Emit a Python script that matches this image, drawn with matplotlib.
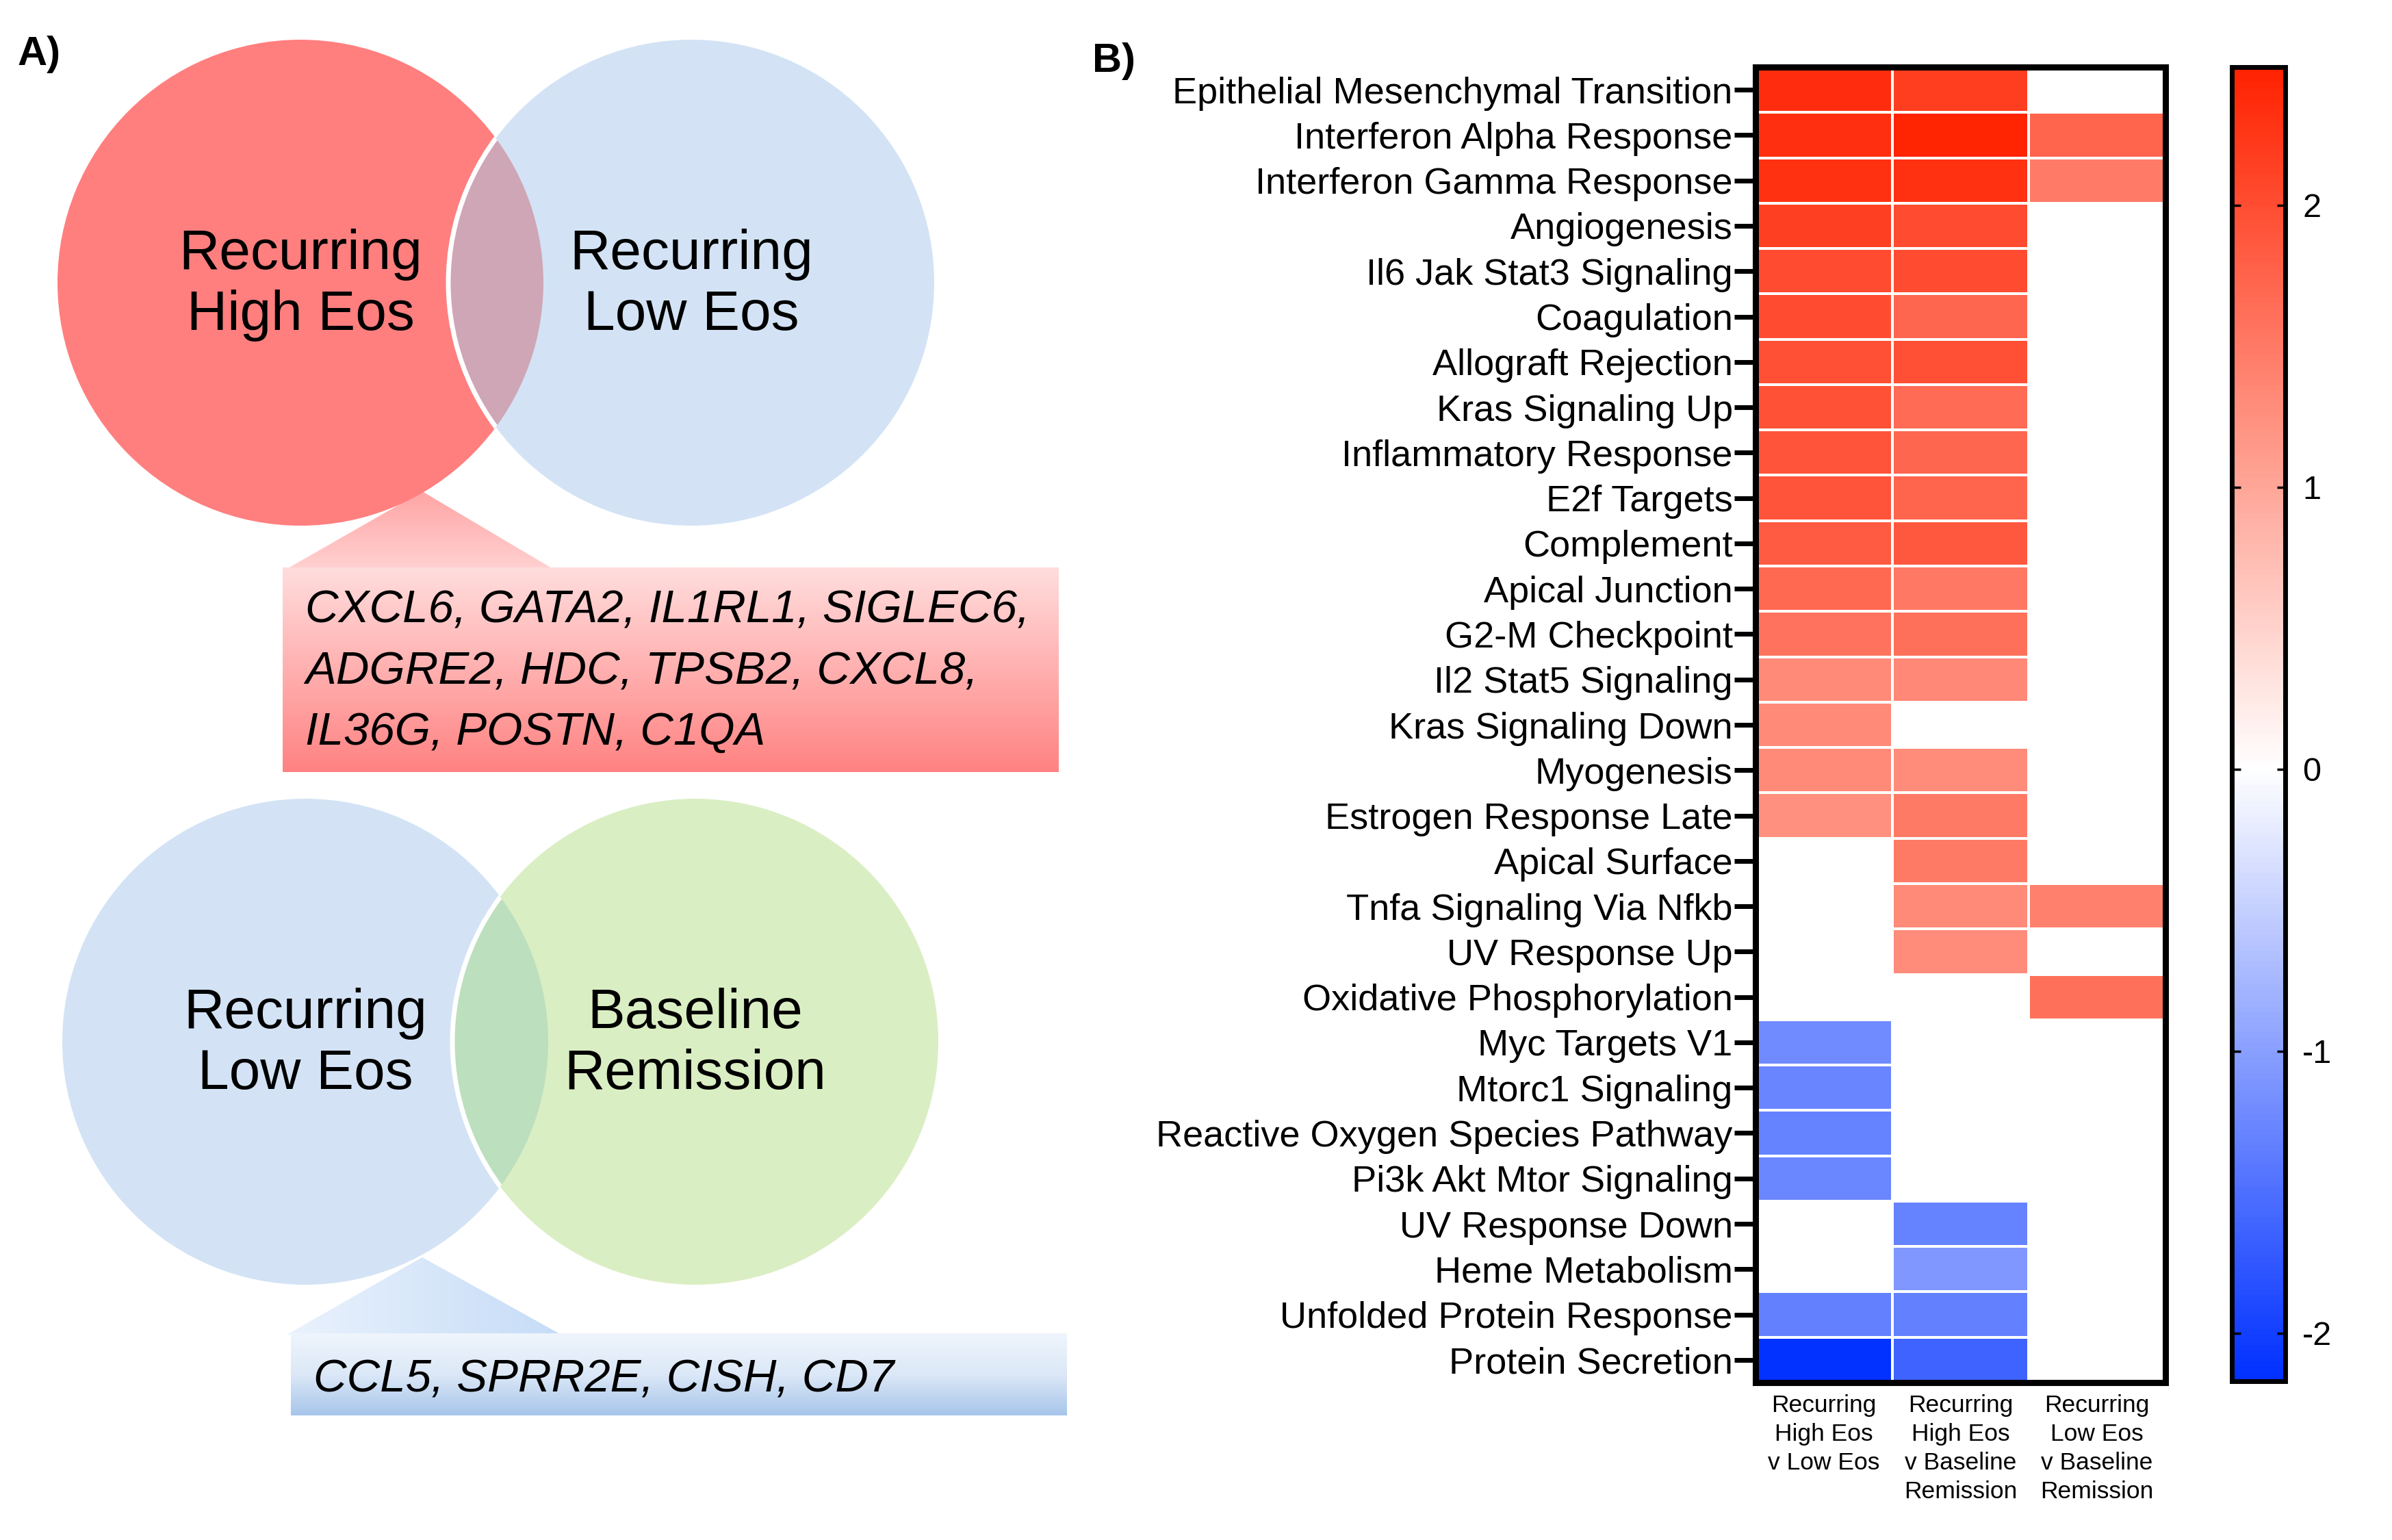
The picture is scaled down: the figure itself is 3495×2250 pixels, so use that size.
import numpy as np
import matplotlib
matplotlib.use('Agg')
import matplotlib.pyplot as plt
from matplotlib.patches import Circle, Polygon, Rectangle
from matplotlib.colors import LinearSegmentedColormap

plt.rcParams['font.family'] = ['Liberation Sans', 'DejaVu Sans']
plt.rcParams['axes.unicode_minus'] = False

nan = np.nan

pathways = ["Epithelial Mesenchymal Transition", "Interferon Alpha Response",
            "Interferon Gamma Response", "Angiogenesis", "Il6 Jak Stat3 Signaling",
            "Coagulation", "Allograft Rejection", "Kras Signaling Up",
            "Inflammatory Response", "E2f Targets", "Complement", "Apical Junction",
            "G2-M Checkpoint", "Il2 Stat5 Signaling", "Kras Signaling Down",
            "Myogenesis", "Estrogen Response Late", "Apical Surface",
            "Tnfa Signaling Via Nfkb", "UV Response Up", "Oxidative Phosphorylation",
            "Myc Targets V1", "Mtorc1 Signaling", "Reactive Oxygen Species Pathway",
            "Pi3k Akt Mtor Signaling", "UV Response Down", "Heme Metabolism",
            "Unfolded Protein Response", "Protein Secretion"]

high_vs_low = [2.35, 2.33, 2.31, 2.16, 2.03, 2.00, 1.97, 1.95, 1.91, 1.91, 1.85, 1.68,
               1.57, 1.32, 1.32, 1.32, 1.25, nan, nan, nan, nan, -1.22, -1.27, -1.30,
               -1.25, nan, nan, -1.33, -2.14]
high_vs_base = [2.17, 2.47, 2.31, 2.00, 2.00, 1.72, 1.97, 1.67, 1.72, 1.74, 1.88, 1.52,
                1.61, 1.34, nan, 1.29, 1.49, 1.49, 1.32, 1.29, nan, nan, nan, nan,
                nan, -1.31, -1.09, -1.33, -1.63]
low_vs_base = [nan, 1.74, 1.48, nan, nan, nan, nan, nan, nan, nan, nan, nan, nan, nan,
               nan, nan, nan, nan, 1.43, nan, 1.61, nan, nan, nan, nan, nan, nan, nan, nan]

comparisons = ["Recurring\nHigh Eos\nv Low Eos",
               "Recurring\nHigh Eos\nv Baseline\nRemission",
               "Recurring\nLow Eos\nv Baseline\nRemission"]
cbar_ticks = [-2, -1, 0, 1, 2]
vmin, vmax = -2.17, 2.49

# Panel A text
venn_top = [["Recurring", "High Eos"], ["Recurring", "Low Eos"]]
venn_bottom = [["Recurring", "Low Eos"], ["Baseline", "Remission"]]
genes_high = ["CXCL6, GATA2, IL1RL1, SIGLEC6,", "ADGRE2, HDC, TPSB2, CXCL8,",
              "IL36G, POSTN, C1QA"]
genes_low = ["CCL5, SPRR2E, CISH, CD7"]

W, H = 3495, 2250
fig = plt.figure(figsize=(W / 100, H / 100), dpi=100)

# ---------------- panel A, drawn in pixel coordinates ----------------
ax0 = fig.add_axes([0, 0, 1, 1])
ax0.axis('off')


def venn(ax, c1, c2, col1, col2, col12, labels, r=355):
    a = Circle(c1, r, fc=col1, ec='none')
    ax.add_patch(a)
    b = Circle(c2, r, fc=col2, ec='none')
    ax.add_patch(b)
    lens = Circle(c1, r, fc=col12, ec='none')
    ax.add_patch(lens)
    lens.set_clip_path(b)
    rim = Circle(c2, r, fill=False, ec='white', lw=5)
    ax.add_patch(rim)
    rim.set_clip_path(a)
    for (cx, cy), lines in zip([c1, c2], labels):
        for k, line in enumerate(lines):
            ax.text(cx, cy - 20 + 89 * k, line, fontsize=59, ha='center', va='baseline')


def grad_patch(ax, patch, colors, horizontal=False):
    ax.add_patch(patch)
    if isinstance(patch, Polygon):
        x0, y0 = patch.get_xy().min(axis=0)
        x1, y1 = patch.get_xy().max(axis=0)
    else:
        x0, y0 = patch.get_xy()
        x1, y1 = x0 + patch.get_width(), y0 + patch.get_height()
    cm = LinearSegmentedColormap.from_list('g', colors)
    g = np.linspace(0, 1, 256)
    arr = g[None, :] if horizontal else g[:, None]
    im = ax.imshow(arr, cmap=cm, extent=(x0, x1, y1, y0), aspect='auto',
                   origin='upper', interpolation='bilinear')
    im.set_clip_path(patch)


venn(ax0, (439, 413), (1010, 413), '#FF7F7F', '#D3E3F5', '#CFA6B6', venn_top)
venn(ax0, (446, 1522), (1016, 1522), '#D3E3F5', '#DAEEC3', '#BCDFBE', venn_bottom)

grad_patch(ax0, Polygon([(617, 718), (421, 830), (806, 830)], fc='none', ec='none'),
           ['#FFA5A5', '#FFD0D0'])
grad_patch(ax0, Rectangle((413, 829), 1133, 299, fc='none', ec='none'),
           ['#FFDDDD', '#FFB0B0', '#FF8282'])
grad_patch(ax0, Polygon([(617, 1837), (419, 1950), (820, 1950)], fc='none', ec='none'),
           ['#EAF2FD', '#C6DCF7'], horizontal=True)
grad_patch(ax0, Rectangle((425, 1948), 1133, 120, fc='none', ec='none'),
           ['#EFF5FC', '#DCE8F7', '#A6C5EA'])

for k, line in enumerate(genes_high):
    ax0.text(446, 910 + 89 * k, line, fontsize=48.4, style='italic', va='baseline')
ax0.text(458, 2033, genes_low[0], fontsize=48.4, style='italic', va='baseline')

ax0.text(26, 95, "A)", fontsize=43, fontweight='bold', va='baseline')
ax0.text(1596, 105, "B)", fontsize=43, fontweight='bold', va='baseline')

ax0.set_xlim(0, W)
ax0.set_ylim(H, 0)

# ---------------- panel B heatmap ----------------
f0 = -vmin / (vmax - vmin)
cmap = LinearSegmentedColormap.from_list('nes', [(0, '#0030FF'), (f0, '#FFFFFF'), (1, '#FF2200')])

data = np.ma.masked_invalid(np.column_stack([high_vs_low, high_vs_base, low_vs_base]))

ax = fig.add_axes([2565 / W, 1 - 2020 / H, 599 / W, 1922 / H])
mesh = ax.pcolormesh(data, cmap=cmap, vmin=vmin, vmax=vmax, edgecolors='white', linewidth=1.5)
ax.set_xlim(0, 3)
ax.set_ylim(len(pathways), 0)
ax.set_yticks(np.arange(len(pathways)) + 0.5)
ax.set_yticklabels(pathways)
ax.set_xticks([0.5, 1.5, 2.5])
ax.set_xticklabels(comparisons, linespacing=1.35)
ax.tick_params(axis='y', length=22, width=5, pad=2, labelsize=39)
ax.tick_params(axis='x', length=0, pad=12, labelsize=25.5)
for s in ax.spines.values():
    s.set_linewidth(6.5)

cax = fig.add_axes([3261 / W, 1 - 2018 / H, 78 / W, 1920 / H])
cb = fig.colorbar(mesh, cax=cax)
cb.outline.set_linewidth(5)
cb.set_ticks(cbar_ticks)
cax.tick_params(direction='in', left=True, right=True, length=9, width=2.5,
                labelsize=35, pad=18)

fig.savefig('out.png', dpi=100)
